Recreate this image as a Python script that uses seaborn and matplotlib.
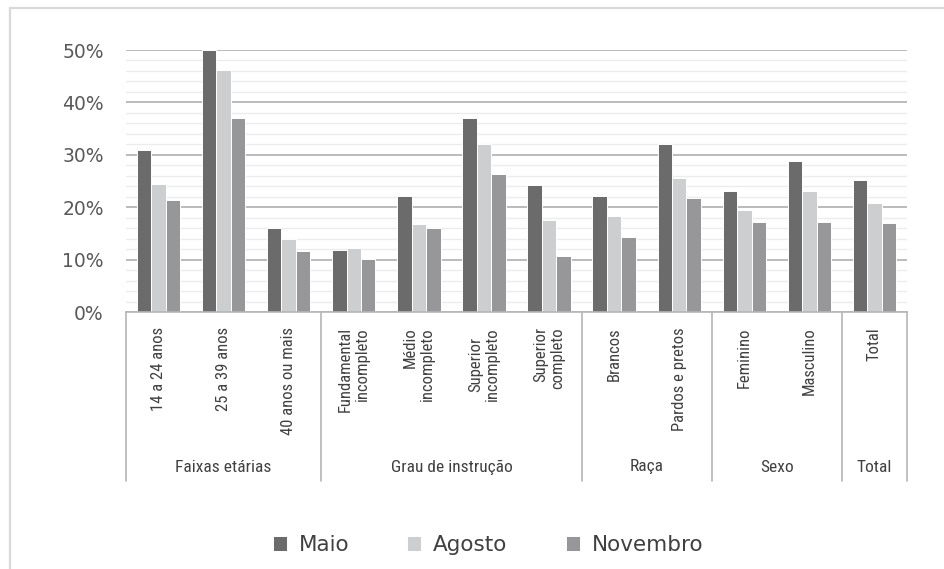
import numpy as np
import pandas as pd
import matplotlib
matplotlib.use("Agg")
import matplotlib.pyplot as plt
import seaborn as sns
from matplotlib import font_manager as fm
from matplotlib.transforms import blended_transform_factory
from matplotlib.lines import Line2D

# ---------------- data ----------------
categories = ["14 a 24 anos", "25 a 39 anos", "40 anos ou mais",
              "Fundamental\nincompleto", "Médio\nincompleto", "Superior\nincompleto",
              "Superior\ncompleto", "Brancos", "Pardos e pretos",
              "Feminino", "Masculino", "Total"]
months = ["Maio", "Agosto", "Novembro"]
maio = [30.9, 50.0, 16.1, 11.9, 22.2, 37.1, 24.2, 22.1, 32.0, 23.1, 28.9, 25.2]
agosto = [24.5, 46.1, 13.9, 12.2, 16.7, 32.0, 17.5, 18.3, 25.6, 19.4, 23.1, 20.8]
novembro = [21.3, 37.1, 11.7, 10.2, 16.0, 26.4, 10.6, 14.3, 21.7, 17.1, 17.1, 17.0]
groups = ["Faixas etárias", "Grau de instrução", "Raça", "Sexo", "Total"]
group_sizes = [3, 4, 2, 2, 1]
y_ticks = [0, 10, 20, 30, 40, 50]

colors = {"Maio": "#6b6b6b", "Agosto": "#cdcecf", "Novembro": "#96979b"}

df = pd.DataFrame({
    "Categoria": categories * 3,
    "Mês": [m for m in months for _ in categories],
    "Valor": maio + agosto + novembro,
})

# ---------------- style ----------------
sns.set_theme(style="white")
plt.rcParams["font.family"] = ["DejaVu Sans"]


def pick_condensed():
    names = {f.name for f in fm.fontManager.ttflist}
    for n in ["Liberation Sans Narrow", "Roboto Condensed", "Open Sans Condensed"]:
        if n in names:
            return dict(family=n)
    if any(f.name == "DejaVu Sans" and "condensed" in str(f.stretch)
           for f in fm.fontManager.ttflist):
        return dict(family="DejaVu Sans", stretch="condensed")
    return dict(family="DejaVu Sans")


cond = pick_condensed()
tick_font = fm.FontProperties(size=12, **cond)
group_font = fm.FontProperties(size=12.5, **cond)

W, H = 945, 569
fig = plt.figure(figsize=(W / 100, H / 100), dpi=100)
ax_l, ax_r, ax_t, ax_b = 126, 907, 50, 312
ax = fig.add_axes([ax_l / W, 1 - ax_b / H, (ax_r - ax_l) / W, (ax_b - ax_t) / H])

sns.barplot(data=df, x="Categoria", y="Valor", hue="Mês", order=categories,
            hue_order=months, palette=colors, width=0.665, edgecolor="white",
            linewidth=0.7, ax=ax, errorbar=None)

ax.set_xlim(-0.5, len(categories) - 0.5)
ax.set_ylim(0, 50)
ax.set_yticks(y_ticks)
ax.set_yticklabels([f"{v}%" for v in y_ticks], fontsize=13.5, color="#595959")
ax.set_yticks(np.arange(0, 51, 2), minor=True)
ax.grid(axis="y", which="minor", color="#ececec", lw=1.0)
ax.grid(axis="y", which="major", color="#b5b5b5", lw=1.3)
ax.grid(axis="x", which="both", visible=False)
ax.set_axisbelow(True)
ax.tick_params(which="both", length=0)
ax.tick_params(axis="y", pad=16)
ax.tick_params(axis="x", pad=11)
ax.set_xlabel("")
ax.set_ylabel("")
for s in ["left", "top", "right"]:
    ax.spines[s].set_visible(False)
ax.spines["bottom"].set_color("#b5b5b5")
ax.spines["bottom"].set_linewidth(1.2)

ax.set_xticks(range(len(categories)))
ax.set_xticklabels(categories, rotation=90, va="top", ha="center",
                   fontproperties=tick_font, color="#404040")
malign = ["center", "center", "center", "right", "right", "center", "right",
          "center", "center", "center", "center", "center"]
for t, a in zip(ax.get_xticklabels(), malign):
    t.set_multialignment(a)

# group separators and labels
trans = blended_transform_factory(ax.transData, fig.transFigure)
bounds = [-0.5]
for n in group_sizes:
    bounds.append(bounds[-1] + n)
for b in bounds:
    fig.add_artist(Line2D([b, b], [1 - ax_b / H, 1 - 481 / H], transform=trans,
                          color="#b5b5b5", lw=1.2))
for name, lo, hi in zip(groups, bounds[:-1], bounds[1:]):
    fig.text((lo + hi) / 2, 1 - 467 / H, name, transform=trans, ha="center",
             va="center", fontproperties=group_font, color="#404040")

# legend
handles, labels = ax.get_legend_handles_labels()
if ax.get_legend() is not None:
    ax.get_legend().remove()
fig.legend(handles, labels, loc="center", bbox_to_anchor=(488 / W, 1 - 545 / H),
           ncol=3, frameon=False, fontsize=15.5, handlelength=0.65,
           handleheight=0.65, handletextpad=0.55, columnspacing=2.7,
           labelcolor="#404040")

# outer frame (left and top edges)
fig.add_artist(Line2D([10 / W, 10 / W], [0, 1 - 8 / H], transform=fig.transFigure,
                      color="#d9d9d9", lw=1.6))
fig.add_artist(Line2D([10 / W, 1], [1 - 8 / H, 1 - 8 / H], transform=fig.transFigure,
                      color="#d9d9d9", lw=1.6))

fig.savefig("out.png", dpi=100)
